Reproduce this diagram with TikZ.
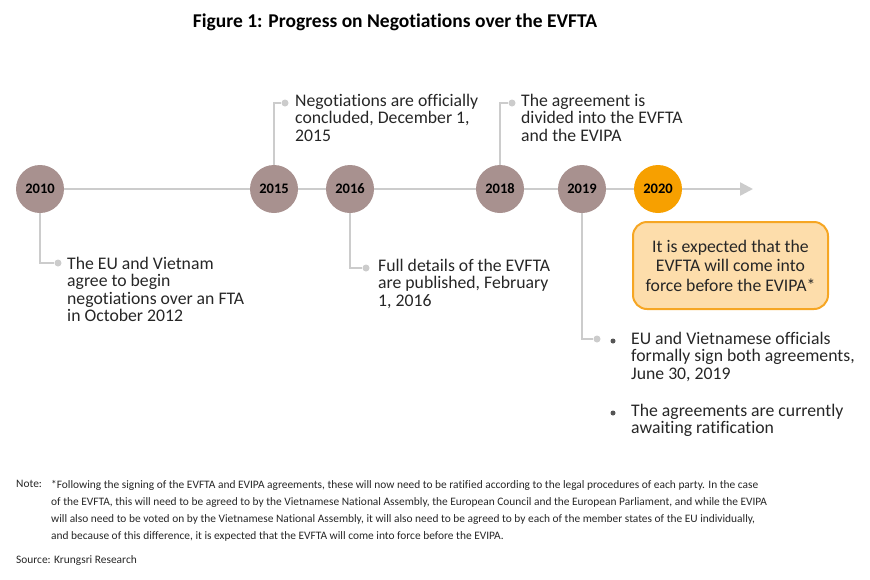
\documentclass[tikz,border=0pt]{standalone}
\usepackage{fontspec}
\setmainfont{Carlito}[Ligatures=CommonOff]
\usetikzlibrary{arrows.meta}
\definecolor{yearc}{HTML}{A8918F}
\definecolor{linec}{HTML}{CCCCCC}
\definecolor{orangec}{HTML}{F7A000}
\definecolor{boxfill}{HTML}{FDDDAB}
\definecolor{boxdraw}{HTML}{F6A623}
\definecolor{bulletc}{HTML}{555555}
\begin{document}
\begin{tikzpicture}[x=1pt,y=-1pt,
  year/.style={circle,fill=yearc,minimum size=48pt,inner sep=0pt,font=\fontsize{14.5}{15}\selectfont\bfseries},
  yearnow/.style={year,fill=orangec},
  dotc/.style={circle,fill=linec,minimum size=7pt,inner sep=0pt},
  bul/.style={circle,fill=bulletc,minimum size=5pt,inner sep=0pt},
  conn/.style={draw=linec,line width=2.5pt},
  txt/.style={anchor=north west,inner sep=0pt,align=left,font=\fontsize{17.7}{17.5}\selectfont,text=black!85},
  notefont/.style={font=\fontsize{11.4}{17}\selectfont,text=black!85},
]
\useasboundingbox (0,0) rectangle (870,579);
\node[font=\fontsize{19.5}{20}\selectfont\bfseries] (title) at (395,22) {Figure 1: Progress on Negotiations over the EVFTA};

\node[year] (c2010) at (40,189) {2010};
\node[year] (c2015) at (274,189) {2015};
\node[year] (c2016) at (350,189) {2016};
\node[year] (c2018) at (500,189) {2018};
\node[year] (c2019) at (582,189) {2019};
\node[yearnow] (c2020) at (658,189) {2020};
\coordinate (tip) at (753,189);

\draw[conn,-{Triangle[length=13pt,width=13pt]}] (c2010) -- (c2015) -- (c2016) -- (c2018) -- (c2019) -- (c2020) -- (tip);

% 2010
\node[dotc] (d2010) at (58,263) {};
\draw[conn] (c2010) |- (d2010);
\node[txt] (t2010) at (67,257) {The EU and Vietnam\\agree to begin\\negotiations over an FTA\\in October 2012};

% 2015
\node[dotc] (d2015) at (285,103) {};
\draw[conn] (c2015) |- (d2015);
\node[txt] (t2015) at (295,94) {Negotiations are officially\\concluded, December 1,\\2015};

% 2016
\node[dotc] (d2016) at (366,268) {};
\draw[conn] (c2016) |- (d2016);
\node[txt] (t2016) at (378,259) {Full details of the EVFTA\\are published, February\\1, 2016};

% 2018
\node[dotc] (d2018) at (512,103) {};
\draw[conn] (c2018) |- (d2018);
\node[txt] (t2018) at (521,94) {The agreement is\\divided into the EVFTA\\and the EVIPA};

% 2019
\node[dotc] (d2019) at (597,339) {};
\draw[conn] (c2019) |- (d2019);
\node[bul] (b1) at (613,341) {};
\node[txt] (t2019a) at (631,332) {EU and Vietnamese officials\\formally sign both agreements,\\June 30, 2019};
\node[bul] (b2) at (613,413) {};
\node[txt] (t2019b) at (631,404) {The agreements are currently\\awaiting ratification};

% 2020 box
\node[draw=boxdraw,fill=boxfill,line width=2pt,rounded corners=14pt,minimum width=195pt,minimum height=87pt,align=center,font=\fontsize{17.7}{19.5}\selectfont,text=black!85] (box) at (730.5,265.5) {It is expected that the\\EVFTA will come into\\force before the EVIPA*};

% notes
\node[anchor=north west,inner sep=0pt,notefont] (notelbl) at (16,480) {Note:};
\node[anchor=north west,inner sep=0pt,align=left,notefont] (notetxt) at (51,480) {*Following the signing of the EVFTA and EVIPA agreements, these will now need to be ratified according to the legal procedures of each party. In the case\\of the EVFTA, this will need to be agreed to by the Vietnamese National Assembly, the European Council and the European Parliament, and while the EVIPA\\will also need to be voted on by the Vietnamese National Assembly, it will also need to be agreed to by each of the member states of the EU individually,\\and because of this difference, it is expected that the EVFTA will come into force before the EVIPA.};
\node[anchor=north west,inner sep=0pt,notefont] (source) at (16,555) {Source: Krungsri Research};
\end{tikzpicture}
\end{document}
